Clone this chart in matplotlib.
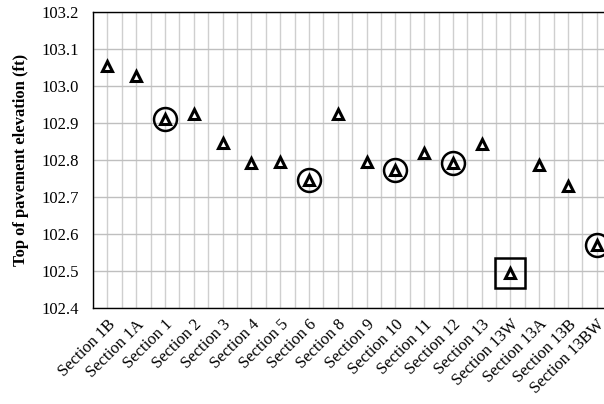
import numpy as np
import matplotlib.pyplot as plt
from matplotlib.ticker import MultipleLocator, FixedLocator

plt.rcParams['font.family'] = ['Liberation Serif', 'DejaVu Serif']

sections = ['Section 1B', 'Section 1A', 'Section 1', 'Section 2', 'Section 3',
            'Section 4', 'Section 5', 'Section 6', 'Section 8', 'Section 9',
            'Section 10', 'Section 11', 'Section 12', 'Section 13', 'Section 13W',
            'Section 13A', 'Section 13B', 'Section 13BW']
elevation = [103.055, 103.028, 102.911, 102.925, 102.847, 102.792, 102.796,
             102.746, 102.925, 102.796, 102.774, 102.820, 102.792, 102.844,
             102.495, 102.788, 102.731, 102.571]
circled = ['Section 1', 'Section 6', 'Section 10', 'Section 12', 'Section 13BW']
boxed = ['Section 13W']

x = np.arange(len(sections))

fig = plt.figure(figsize=(6.04, 4.04), dpi=100)
ax = fig.add_axes([0.154, 0.237, 0.858, 0.733])

ax.plot(x, elevation, linestyle='none', marker='^', markersize=7,
        markerfacecolor='white', markeredgecolor='black', markeredgewidth=2.2, zorder=4)

ci = [sections.index(s) for s in circled]
ax.plot(ci, [elevation[i] for i in ci], linestyle='none', marker='o', markersize=16.5,
        markerfacecolor='none', markeredgecolor='black', markeredgewidth=1.8, zorder=3)
bi = [sections.index(s) for s in boxed]
ax.plot(bi, [elevation[i] for i in bi], linestyle='none', marker='s', markersize=21,
        markerfacecolor='none', markeredgecolor='black', markeredgewidth=1.8, zorder=3)

ax.set_xlim(-0.5, len(sections) - 0.5)
ax.set_ylim(102.4, 103.2)
ax.yaxis.set_major_locator(MultipleLocator(0.1))
ax.yaxis.set_major_formatter(plt.FormatStrFormatter('%.1f'))
ax.set_xticks(x)
ax.set_xticklabels(sections, rotation=45, ha='right', rotation_mode='anchor')
ax.xaxis.set_minor_locator(FixedLocator(np.arange(-0.5, len(sections), 1.0)))
ax.tick_params(axis='both', length=0, labelsize=12)
ax.tick_params(axis='y', pad=10)
ax.tick_params(axis='x', pad=6)
ax.tick_params(axis='x', which='minor', length=0)

ax.grid(True, which='major', axis='y', color='#bfbfbf', linewidth=1.0)
ax.grid(True, which='both', axis='x', color='#cfcfcf', linewidth=1.0)
ax.set_axisbelow(True)

for s in ['left', 'bottom', 'top']:
    ax.spines[s].set_color('black')
    ax.spines[s].set_linewidth(1.0)
ax.spines['right'].set_visible(False)

ax.set_ylabel('Top of pavement elevation (ft)', fontweight='bold', fontsize=12, labelpad=9)

fig.savefig('out.png', dpi=100)
